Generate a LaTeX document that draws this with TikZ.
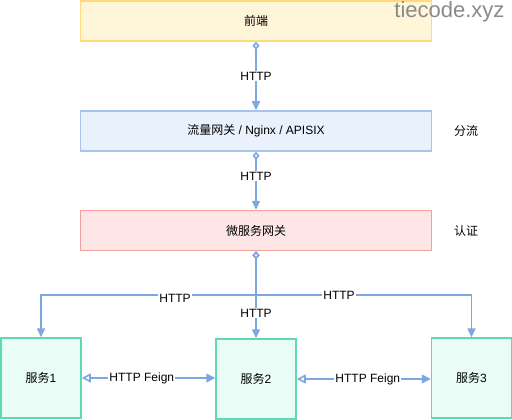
\documentclass[tikz,border=0pt]{standalone}
\usepackage{fontspec}
\setmainfont{Liberation Sans}
\newfontfamily\cjk{Noto Sans CJK SC}
\usetikzlibrary{arrows.meta,positioning}
\definecolor{yfill}{HTML}{FFF5D9}
\definecolor{ydraw}{HTML}{FFD97A}
\definecolor{bfill}{HTML}{E9F1FD}
\definecolor{bdraw}{HTML}{A9C4EB}
\definecolor{rfill}{HTML}{FDE6E5}
\definecolor{rdraw}{HTML}{F0A09D}
\definecolor{gfill}{HTML}{E9FCF5}
\definecolor{gdraw}{HTML}{5FD9B2}
\definecolor{arr}{HTML}{7EA6E0}
\definecolor{wm}{HTML}{8A8A8A}
\begin{document}
\begin{tikzpicture}[x=1pt,y=-1pt,
  font=\fontsize{12}{14}\selectfont,
  layer/.style={draw=#1draw,fill=#1fill,line width=1.5pt,minimum width=351pt,minimum height=40pt,inner sep=0pt},
  svc/.style={draw=gdraw,fill=gfill,line width=1.5pt,minimum width=80pt,minimum height=80pt,inner sep=0pt},
  conn/.style={draw=arr,line width=1.6pt,{Diamond[open,fill=white,length=8pt,width=7pt]}-{Triangle[length=9pt,width=8pt]}},
  feign/.style={draw=arr,line width=1.6pt,{Triangle[open,fill=white,length=9pt,width=9pt]}-{Triangle[length=9pt,width=9pt]}},
  lbl/.style={fill=white,inner sep=1pt,text=black},
  side/.style={text=black}]
\useasboundingbox (0,0) rectangle (512,420);
\node[layer=y] (fe) at (256,21) {\cjk 前端};
\node[layer=b] (lb) at (256,131) {{\cjk 流量网关} / Nginx / APISIX};
\node[layer=r] (gw) at (256,230.5) {\cjk 微服务网关};
\node[svc] (s1) at (41,378) {{\cjk 服务}1};
\node[svc] (s2) at (256,379) {{\cjk 服务}2};
\node[svc] (s3) at (471.5,378) {{\cjk 服务}3};
\node[side] (t1) at (466,131) {\cjk 分流};
\node[side] (t2) at (466,231) {\cjk 认证};
\node[text=wm,font=\fontsize{22}{24}\selectfont,anchor=east] (wmk) at (508,12) {tiecode.xyz};
\coordinate (j) at (256,295);
\draw[conn] (fe.south) -- node[lbl] {HTTP} (lb.north);
\draw[conn] (lb.south) -- node[lbl,pos=0.42] {HTTP} (gw.north);
\draw[conn] (gw.south) -- (j) -| (s1.north);
\draw[conn] (gw.south) -- (j) -| (s3.north);
\draw[conn] (gw.south) -- (s2.north);
\node[lbl] (h1) at (175,298) {HTTP};
\node[lbl] (h3) at (339,295) {HTTP};
\node[lbl] (h2) at (256,313) {HTTP};
\draw[feign] (s1.east) -- node[lbl,pos=0.45] {HTTP Feign} (s2.west |- s1.east);
\draw[feign] (s2.east) -- node[lbl,pos=0.53] {HTTP Feign} (s3.west |- s2.east);
\end{tikzpicture}
\end{document}
